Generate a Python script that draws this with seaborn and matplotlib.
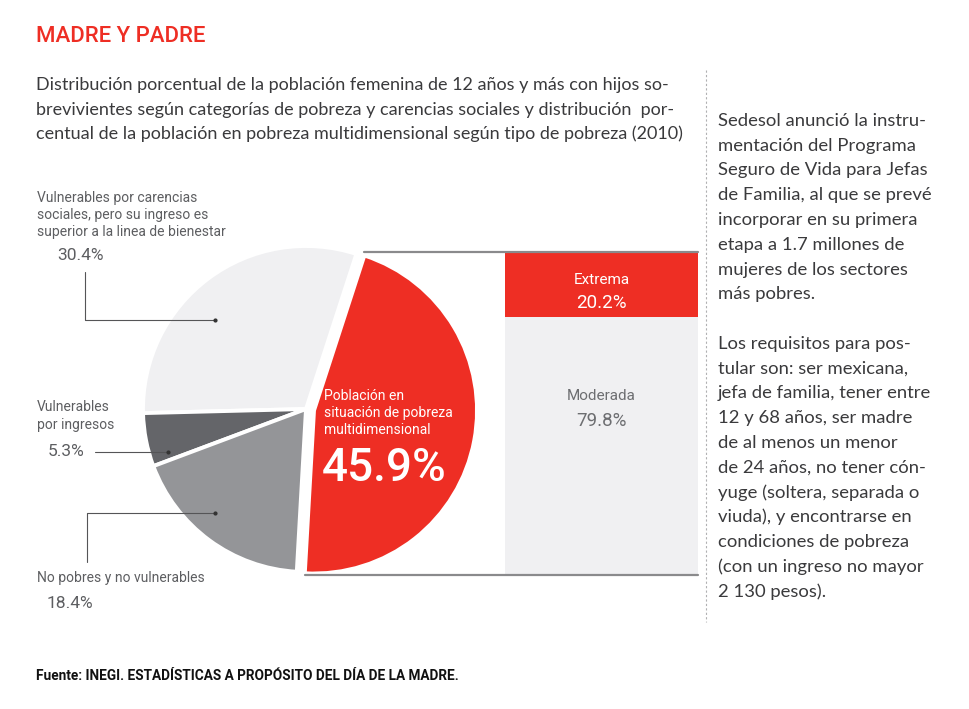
import numpy as np
import pandas as pd
import matplotlib
matplotlib.use("Agg")
import matplotlib.pyplot as plt
import seaborn as sns

# pie: poblacion femenina segun pobreza y carencias
pie_labels = ["Vulnerables por carencias sociales", "Vulnerables por ingresos",
              "No pobres y no vulnerables", "Población en situación de pobreza multidimensional"]
pie_values = [30.4, 5.3, 18.4, 45.9]
pie_colors = ["#f0f0f2", "#646569", "#949598", "#ee2e24"]

# bar: tipo de pobreza
tipos = ["Extrema", "Moderada"]
tipo_pct = [20.2, 79.8]
tipo_colors = ["#ee2e24", "#f0f0f2"]

RED = "#ee2e24"
LABEL = "#5d5e61"
BODY = "#3a3a3c"

sns.set_theme(style="white")
plt.rcParams["font.family"] = ["Lato", "DejaVu Sans"]

W, H = 970, 709
fig = plt.figure(figsize=(W / 100, H / 100), dpi=100)
fig.patch.set_facecolor("white")

# pie axes (square box around pie centre)
cx, cy, box = 306, 409, 170
r_px = 163
ax_pie = fig.add_axes([(cx - box) / W, (H - cy - box) / H, 2 * box / W, 2 * box / H])
wedges, _ = ax_pie.pie(pie_values, colors=pie_colors, startangle=72, counterclock=True,
                       explode=[0, 0, 0, 0.05],
                       wedgeprops=dict(edgecolor="white", linewidth=2.8))
lim = box / r_px
ax_pie.set_xlim(-lim, lim)
ax_pie.set_ylim(-lim, lim)
ax_pie.set_aspect("equal")
ax_pie.axis("off")

# stacked bar with seaborn (y inverted so Extrema sits on top)
ax_bar = fig.add_axes([505 / W, (H - 575) / H, 193 / W, 323 / H])
bar_df = pd.DataFrame({"tipo": tipos, "pct": tipo_pct, "color": tipo_colors})
bar_df["cum"] = bar_df["pct"].cumsum()
for _, row in bar_df.iloc[::-1].iterrows():
    sns.barplot(x=["pobreza"], y=[row["cum"]], color=row["color"], width=1.0,
                saturation=1, edgecolor="none", ax=ax_bar)
ax_bar.set_ylim(100, 0)
ax_bar.set_xlim(-0.5, 0.5)
ax_bar.axis("off")
bar_txt = [("Extrema", 8.7, "white", 11), ("20.2%", 15.9, "white", 13.5),
           ("Moderada", 44.6, "#6d6e71", 11), ("79.8%", 52.3, "#6d6e71", 13.5)]
for s, yy, c, fs in bar_txt:
    ax_bar.text(0, yy, s, ha="center", va="center", color=c, fontsize=fs, family=["Roboto"])

# overlay in pixel coordinates
ax = fig.add_axes([0, 0, 1, 1], zorder=5)
ax.set_xlim(0, W)
ax.set_ylim(H, 0)
ax.axis("off")
ax.patch.set_alpha(0)


def to_px(axes, x, y):
    d = axes.transData.transform((x, y))
    return ax.transData.inverted().transform(d)


# connector lines from red wedge to the bar
red = wedges[3]
tc = np.array(red.center)
p_top = to_px(ax_pie, *(tc + red.r * np.array([np.cos(np.radians(red.theta2)), np.sin(np.radians(red.theta2))])))
p_bot = to_px(ax_pie, *(tc + red.r * np.array([np.cos(np.radians(red.theta1)), np.sin(np.radians(red.theta1))])))
b_top = to_px(ax_bar, 0.5, 0)
b_bot = to_px(ax_bar, 0.5, 100)
ax.plot([p_top[0], b_top[0]], [b_top[1], b_top[1]], color="#8a8a8c", lw=1.6, zorder=6)
ax.plot([p_bot[0], b_bot[0]], [b_bot[1], b_bot[1]], color="#8a8a8c", lw=1.6, zorder=6)

# title and subtitle
ax.text(36, 37, "MADRE Y PADRE", color=RED, fontsize=16, fontweight="medium",
        family=["Roboto"], va="center", ha="left")
subtitle = ["Distribución porcentual de la población femenina de 12 años y más con hijos so-",
            "brevivientes según categorías de pobreza y carencias sociales y distribución  por-",
            "centual de la población en pobreza multidimensional según tipo de pobreza (2010)"]
for i, s in enumerate(subtitle):
    ax.text(36, 85 + i * 24.5, s, color=BODY, fontsize=13.0, va="center", ha="left")

# pie labels
lab_font = ["Roboto"]
ax.text(37, 215, "Vulnerables por carencias\nsociales, pero su ingreso es\nsuperior a la linea de bienestar",
        color=LABEL, fontsize=10, family=lab_font, va="center", linespacing=1.3)
ax.text(57, 255, "30.4%", color=LABEL, fontsize=12.5, family=lab_font, va="center")
ax.text(37, 416, "Vulnerables\npor ingresos", color=LABEL, fontsize=10, family=lab_font,
        va="center", linespacing=1.3)
ax.text(48, 452, "5.3%", color=LABEL, fontsize=12.5, family=lab_font, va="center")
ax.text(37, 578, "No pobres y no vulnerables", color=LABEL, fontsize=10, family=lab_font, va="center")
ax.text(47, 604, "18.4%", color=LABEL, fontsize=12.5, family=lab_font, va="center")

lead = dict(color="#555557", lw=0.8, zorder=6)
ax.plot([85, 85, 215], [272, 320, 320], **lead)
ax.plot([95, 168], [452, 452], **lead)
ax.plot([87, 87, 215], [562, 513, 513], **lead)
for x, y in [(215, 320), (168, 452), (215, 513)]:
    ax.plot(x, y, "o", ms=2, color="#333333", zorder=7)

# red wedge text
ax.text(324, 413, "Población en\nsituación de pobreza\nmultidimensional", color="white",
        fontsize=10, family=lab_font, va="center", linespacing=1.25, zorder=7)
ax.text(322, 468, "45.9%", color="white", fontsize=33, fontweight="medium", family=lab_font,
        va="center", zorder=7)

# dashed separator
ax.plot([706, 706], [70, 622], color="#b0b0b2", lw=0.8, ls=(0, (2, 2)))

# side note
note = ["Sedesol anunció la instru-", "mentación del Programa", "Seguro de Vida para Jefas",
        "de Familia, al que se prevé", "incorporar en su primera", "etapa a 1.7 millones de",
        "mujeres de los sectores", "más pobres.", "",
        "Los requisitos para pos-", "tular son: ser mexicana,", "jefa de familia, tener entre",
        "12 y 68 años, ser madre", "de al menos un menor", "de 24 años, no tener cón-",
        "yuge (soltera, separada o", "viuda), y encontrarse en", "condiciones de pobreza",
        "(con un ingreso no mayor", "2 130 pesos)."]
for i, s in enumerate(note):
    ax.text(718, 121 + i * 24.75, s, color=BODY, fontsize=13.3, va="center", ha="left")

ax.text(36, 676, "Fuente: INEGI. ESTADÍSTICAS A PROPÓSITO DEL DÍA DE LA MADRE.", color="#111111",
        fontsize=9.8, fontweight="bold", family=lab_font, va="center")

fig.savefig("out.png", dpi=100, facecolor="white")
